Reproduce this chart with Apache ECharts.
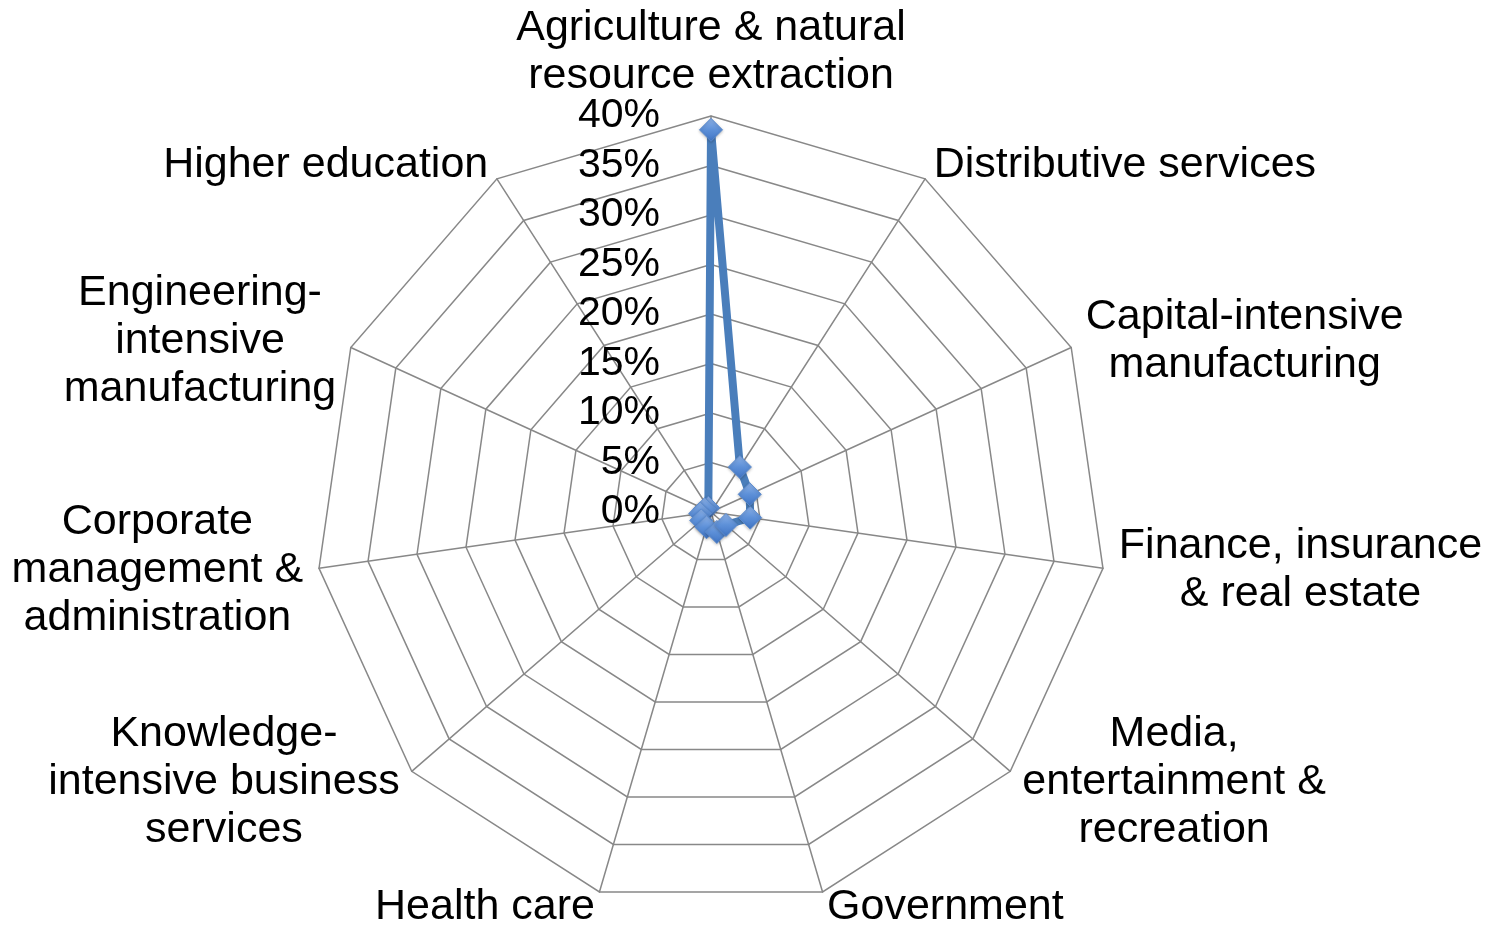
<!DOCTYPE html>
<html>
<head>
<meta charset="utf-8">
<title>Industry share radar</title>
<script src="https://cdn.jsdelivr.net/npm/echarts@6/dist/echarts.min.js"></script>
<style>
  html, body { margin: 0; padding: 0; background: #ffffff; }
  #chart { width: 1493px; height: 927px; }
</style>
</head>
<body>
<div id="chart"></div>
<script>
// Industry categories, clockwise from the top
const categories = [
  'Agriculture & natural\nresource extraction',
  'Distributive services',
  'Capital-intensive\nmanufacturing',
  'Finance, insurance\n& real estate',
  'Media,\nentertainment &\nrecreation',
  'Government',
  'Health care',
  'Knowledge-\nintensive business\nservices',
  'Corporate\nmanagement &\nadministration',
  'Engineering-\nintensive\nmanufacturing',
  'Higher education'
];

// Share of each category, in percent
const shares = [38.6, 5.4, 4.3, 4.0, 2.0, 2.1, 1.6, 1.3, 1.1, 0.7, 0.5];

// Radial scale
const axisMin = 0;
const axisMax = 40;
const axisStep = 5;

const FONT = '"Liberation Sans", Arial, sans-serif';
const gridGray = '#888888';
const lineBlue = '#4A7EBB';

const cx = 711, cy = 512, radius = 396;

// ECharts lays radar axes out counter-clockwise; keep the first axis on top
// and walk the rest backwards so the categories run clockwise.
const order = [0].concat(categories.map((_, i) => i).slice(1).reverse());
const radarNames = order.map(i => categories[i]);
const radarValues = order.map(i => shares[i]);

const chart = echarts.init(document.getElementById('chart'), null, { renderer: 'canvas' });

chart.setOption({
  backgroundColor: '#ffffff',
  animation: false,
  radar: {
    center: [cx, cy],
    radius: radius,
    startAngle: 90,
    shape: 'polygon',
    splitNumber: (axisMax - axisMin) / axisStep,
    axisNameGap: 16,
    indicator: radarNames.map(name => ({ name: name, min: axisMin, max: axisMax })),
    axisName: {
      color: '#000000',
      fontFamily: FONT,
      fontSize: 43,
      lineHeight: 48,
      formatter: name => name.split('\n').map(line => '{c|' + line + '}').join('\n'),
      rich: {
        c: { align: 'center', color: '#000000', fontFamily: FONT, fontSize: 43, lineHeight: 48 }
      }
    },
    splitArea: { show: false },
    splitLine: { lineStyle: { color: gridGray, width: 1.5 } },
    axisLine: { lineStyle: { color: gridGray, width: 1.5 } },
    axisTick: { show: false },
    axisLabel: { show: false }
  },
  // Percent tick labels along the vertical spoke
  grid: { left: cx - 43, width: 10, top: cy - radius, height: radius },
  xAxis: { type: 'value', show: false, min: 0, max: 1 },
  yAxis: {
    type: 'value',
    min: axisMin,
    max: axisMax,
    interval: axisStep,
    axisLine: { show: false },
    axisTick: { show: false },
    splitLine: { show: false },
    axisLabel: {
      formatter: '{value}%',
      color: '#000000',
      fontFamily: FONT,
      fontSize: 41,
      margin: 8,
      padding: [9, 0, 0, 0]
    }
  },
  series: [{
    type: 'radar',
    z: 5,
    symbol: 'diamond',
    symbolSize: 23,
    lineStyle: { color: lineBlue, width: 8 },
    itemStyle: {
      color: new echarts.graphic.LinearGradient(0, 0, 0, 1, [
        { offset: 0, color: '#8fb4ea' },
        { offset: 0.5, color: '#5d90d8' },
        { offset: 1, color: '#3f74c4' }
      ]),
      borderColor: '#5a8bd0',
      borderWidth: 1,
      shadowColor: 'rgba(0,0,0,0.25)',
      shadowBlur: 3,
      shadowOffsetY: 1
    },
    data: [{ value: radarValues, name: 'Share' }]
  }]
});
</script>
</body>
</html>
